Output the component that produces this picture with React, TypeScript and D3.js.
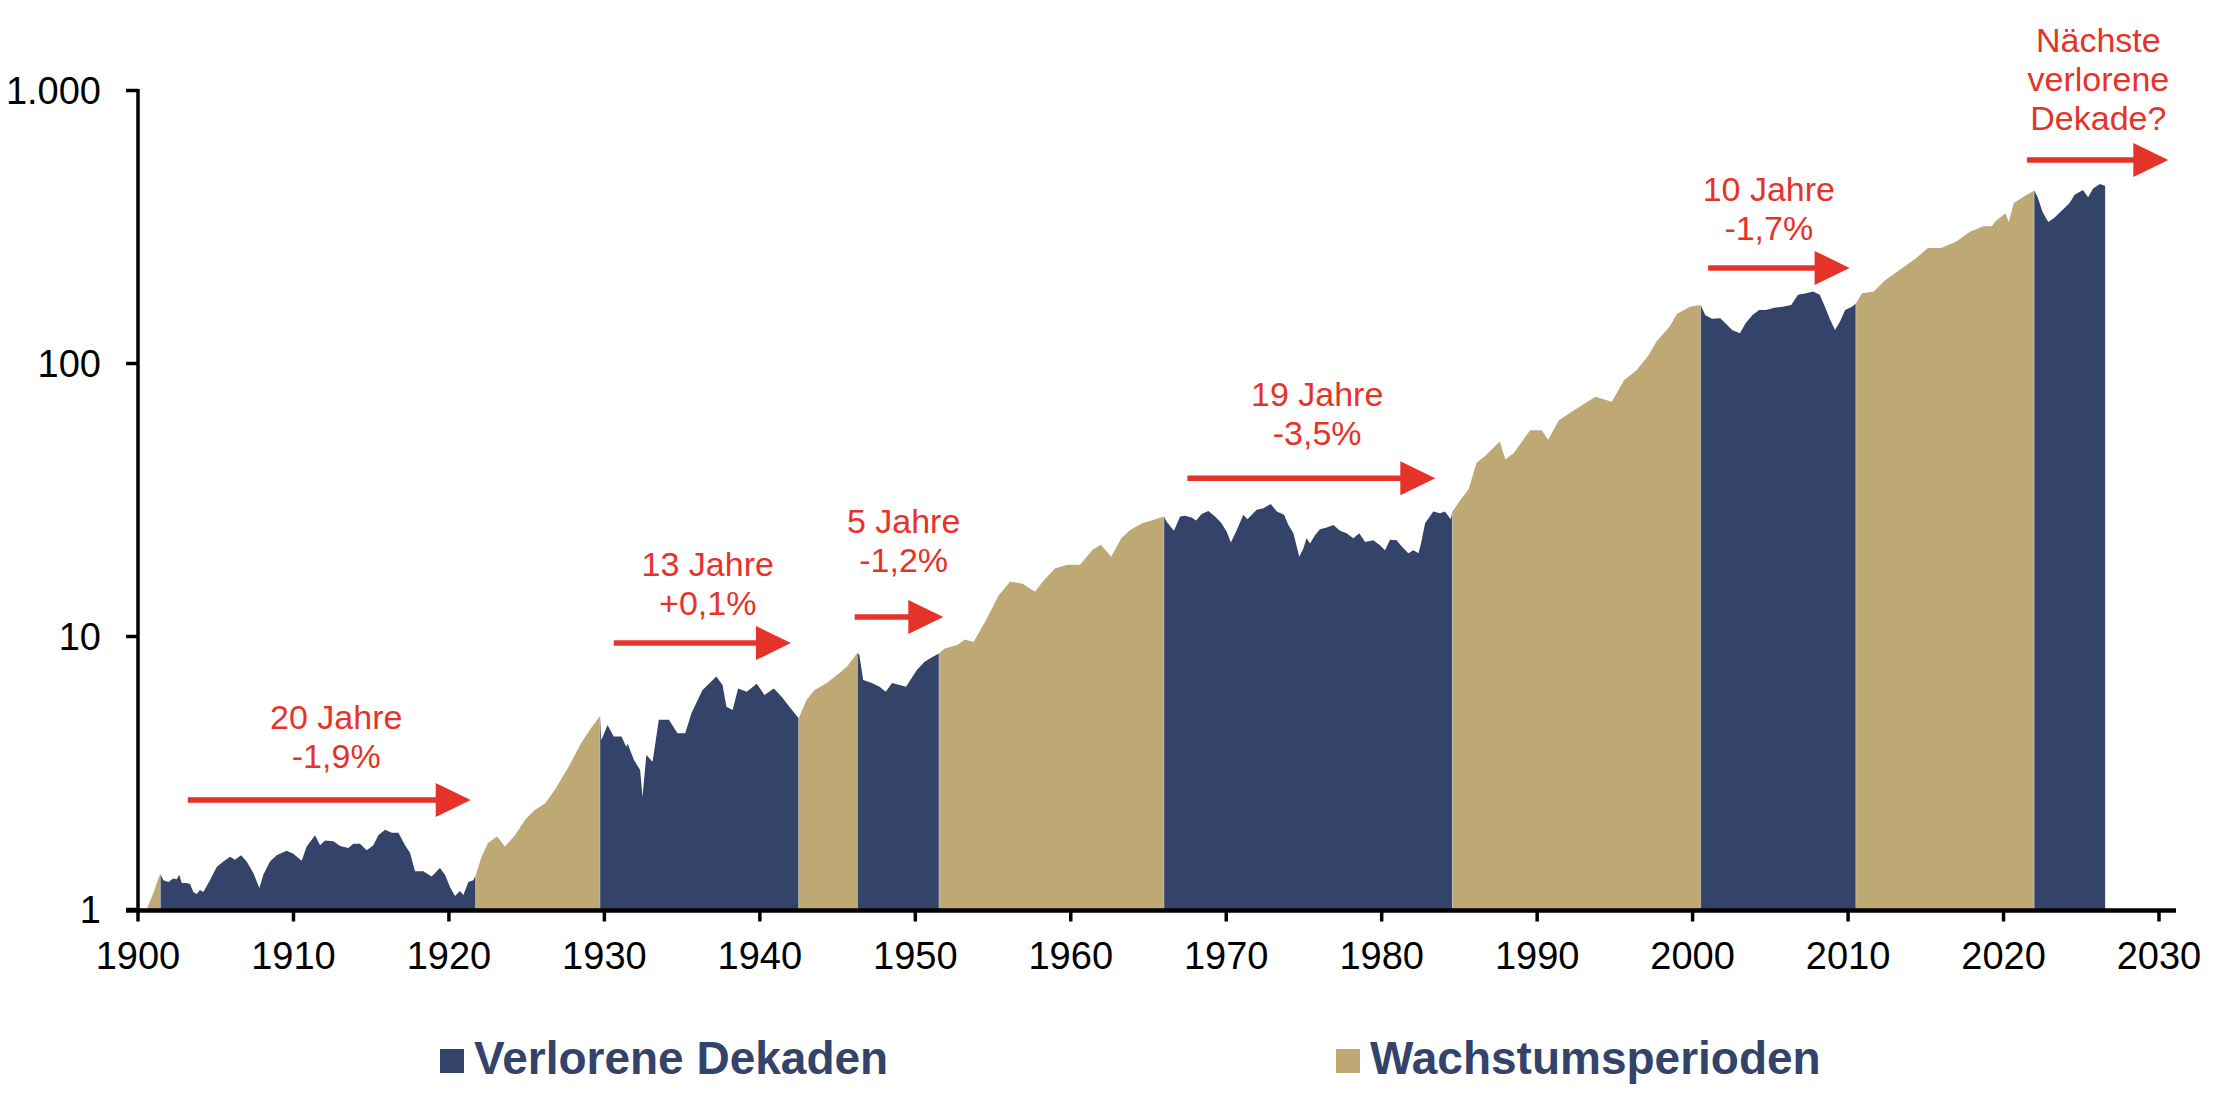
import { useEffect, useRef } from "react";
import * as d3 from "d3";

// index level (log scale) as [year, value], one list per era
const era1900: [number, number][] = [
  [1900.55, 1.0], [1900.99, 1.15], [1901.31, 1.3], [1901.44, 1.35], [1901.63, 1.28],
  [1901.95, 1.26], [1902.27, 1.3], [1902.49, 1.29], [1902.66, 1.34], [1902.81, 1.25],
  [1903.13, 1.25], [1903.35, 1.24], [1903.56, 1.16], [1903.78, 1.14], [1903.99, 1.18],
  [1904.2, 1.16], [1904.63, 1.28], [1905.06, 1.43], [1905.49, 1.5], [1905.92, 1.56],
  [1906.24, 1.52], [1906.63, 1.58], [1906.99, 1.5], [1907.42, 1.36], [1907.81, 1.2],
  [1908.06, 1.34], [1908.49, 1.5], [1908.92, 1.58], [1909.56, 1.64], [1909.99, 1.6],
  [1910.53, 1.51], [1910.85, 1.7], [1911.39, 1.87], [1911.71, 1.72], [1912.03, 1.79],
  [1912.57, 1.78], [1913.0, 1.71], [1913.53, 1.68], [1913.85, 1.74], [1914.28, 1.74],
  [1914.71, 1.65], [1915.14, 1.72], [1915.46, 1.87], [1915.89, 1.96], [1916.32, 1.91],
  [1916.75, 1.91], [1917.18, 1.72], [1917.5, 1.61], [1917.82, 1.38], [1918.35, 1.38],
  [1918.89, 1.32], [1919.42, 1.42], [1919.75, 1.34], [1920.07, 1.21], [1920.39, 1.12],
  [1920.71, 1.17], [1920.93, 1.13], [1921.25, 1.26], [1921.57, 1.28], [1921.74, 1.34],
];

const era1922: [number, number][] = [
  [1922.1, 1.56], [1922.5, 1.75], [1923.1, 1.85], [1923.6, 1.7], [1924.25, 1.87],
  [1924.9, 2.13], [1925.5, 2.31], [1926.2, 2.45], [1926.8, 2.74], [1927.7, 3.33],
  [1928.5, 4.06], [1929.2, 4.67], [1929.72, 5.11], [1929.8, 4.17], [1930.2, 4.74],
  [1930.6, 4.3], [1931.1, 4.3], [1931.4, 3.95], [1931.5, 4.05], [1931.9, 3.53],
  [1932.3, 3.24], [1932.45, 2.59], [1932.7, 3.68], [1933.1, 3.48], [1933.5, 4.95],
  [1934.15, 4.95], [1934.7, 4.42], [1935.2, 4.42], [1935.6, 5.23], [1936.3, 6.36],
  [1937.2, 7.14], [1937.6, 6.64], [1937.85, 5.53], [1938.25, 5.38], [1938.6, 6.45],
  [1939.15, 6.27], [1939.8, 6.72], [1940.3, 6.1], [1940.9, 6.45], [1941.4, 6.02],
  [1941.9, 5.53], [1942.5, 5.02], [1943.0, 5.85], [1943.5, 6.36], [1944.3, 6.75],
  [1945.1, 7.33], [1945.6, 7.75], [1946.28, 8.72], [1946.4, 8.55], [1946.65, 6.93],
  [1947.2, 6.75], [1947.7, 6.55], [1948.1, 6.27], [1948.5, 6.75], [1949.0, 6.64],
  [1949.4, 6.55], [1950.1, 7.54], [1950.6, 8.08], [1951.1, 8.42], [1951.52, 8.67],
  [1951.9, 9.03], [1952.7, 9.3], [1953.2, 9.76], [1953.75, 9.55], [1954.55, 11.5],
  [1955.35, 14.1], [1956.1, 15.9], [1956.9, 15.6], [1957.7, 14.6], [1958.2, 15.9],
  [1959.0, 17.8], [1959.8, 18.3], [1960.6, 18.3], [1961.4, 20.8], [1961.94, 21.7],
  [1962.6, 19.6], [1963.25, 22.9], [1963.8, 24.5], [1964.6, 26.0], [1965.4, 26.8],
];

const era1966: [number, number][] = [
  [1966.0, 27.5], [1966.17, 26.3], [1966.64, 24.4], [1967.03, 27.5], [1967.35, 27.7],
  [1967.78, 27.3], [1968.06, 26.6], [1968.42, 28.1], [1968.85, 28.8], [1969.28, 27.5],
  [1969.7, 26.0], [1970.03, 24.2], [1970.3, 22.1], [1970.67, 24.5], [1971.1, 27.9],
  [1971.36, 26.9], [1971.96, 29.1], [1972.39, 29.5], [1972.86, 30.6], [1973.25, 28.7],
  [1973.72, 27.9], [1974.0, 25.6], [1974.32, 23.9], [1974.7, 19.6], [1974.96, 21.0],
  [1975.17, 22.9], [1975.39, 21.9], [1975.71, 23.5], [1976.03, 24.7], [1976.46, 25.1],
  [1976.89, 25.6], [1977.32, 24.4], [1977.75, 23.9], [1978.17, 22.9], [1978.56, 23.9],
  [1978.93, 22.2], [1979.46, 22.5], [1979.89, 21.6], [1980.21, 20.7], [1980.54, 22.6],
  [1980.96, 22.5], [1981.28, 21.4], [1981.71, 20.2], [1982.04, 20.7], [1982.36, 20.2],
  [1982.53, 21.9], [1982.79, 26.0], [1983.32, 28.7], [1983.75, 28.3], [1984.07, 28.7],
  [1984.44, 26.9], [1984.55, 28.7],
];

const era1985: [number, number][] = [
  [1985.1, 31.8], [1985.6, 34.7], [1986.1, 43.3], [1986.65, 45.8], [1987.6, 51.8],
  [1987.95, 44.5], [1988.5, 47.0], [1989.55, 57], [1990.3, 57], [1990.7, 52.6],
  [1991.4, 62], [1992.4, 67.6], [1993.75, 75.5], [1994.8, 72.5], [1995.6, 87],
  [1996.4, 94.5], [1997.15, 107], [1997.7, 121], [1998.5, 136], [1999.0, 152],
  [1999.83, 161.5],
];

const era2000: [number, number][] = [
  [2000.52, 163.8], [2000.81, 150.6], [2001.24, 146], [2001.78, 146.4], [2002.22, 138.4],
  [2002.54, 132.7], [2003.04, 129], [2003.41, 140.5], [2003.85, 150.6], [2004.28, 157],
  [2004.71, 157], [2005.26, 160], [2005.8, 161.5], [2006.34, 163.8], [2006.78, 178.5],
  [2007.32, 181], [2007.75, 183.5], [2008.18, 178.5], [2008.51, 161.5], [2008.84, 145],
  [2009.16, 132.7], [2009.49, 142.8], [2009.81, 157], [2010.25, 161.5], [2010.5, 166],
  [2010.9, 181], [2011.66, 183.5], [2012.3, 200], [2013.3, 220], [2014.37, 243],
  [2015.13, 265], [2016.0, 265], [2016.97, 280], [2017.84, 304], [2018.7, 318],
  [2019.25, 318], [2019.47, 331], [2020.12, 355], [2020.34, 330], [2020.66, 387],
  [2021.31, 409], [2021.97, 430], [2022.18, 409], [2022.51, 359], [2022.88, 330],
  [2023.27, 342], [2023.7, 361], [2024.25, 387], [2024.57, 415], [2025.11, 432],
  [2025.44, 406], [2025.76, 438], [2026.2, 454], [2026.55, 447],
];

// regime boundaries; periods alternate growth / lost decade
const breaks = [
  1900.55, 1901.44, 1921.72, 1929.72, 1942.5, 1946.28, 1951.52,
  1966.0, 1984.55, 2000.52, 2010.5, 2021.97, 2026.55,
];
const regimes = ["growth", "lost", "growth", "lost", "growth", "lost", "growth", "lost", "growth", "lost", "growth", "lost"];

const yTicks = [1, 10, 100, 1000];
const yTickLabels = ["1", "10", "100", "1.000"];
const xTicks = d3.range(1900, 2031, 10);

// annotations: arrow span in years, arrow level and label level in index units
const noteLines = [
  ["20 Jahre", "-1,9%"],
  ["13 Jahre", "+0,1%"],
  ["5 Jahre", "-1,2%"],
  ["19 Jahre", "-3,5%"],
  ["10 Jahre", "-1,7%"],
  ["Nächste", "verlorene", "Dekade?"],
];
const noteFrom = [1903.2, 1930.6, 1946.1, 1967.5, 2001.0, 2021.5];
const noteTo = [1921.4, 1942.0, 1951.8, 1983.45, 2010.1, 2030.6];
const noteLevel = [2.52, 9.46, 11.8, 38.0, 224, 556];
const noteTextYear = [1912.75, 1936.65, 1949.25, 1975.85, 2004.9, 2026.1];
const noteTextLevel = [3.3, 12.0, 17.2, 50.3, 283, 717];

const legendLabels = ["Verlorene Dekaden", "Wachstumsperioden"];

const NAVY = "#34436a";
const TAN = "#bea975";
const RED = "#e63329";
const FONT = "'Liberation Sans', Arial, sans-serif";

export default function App() {
  const svgRef = useRef<SVGSVGElement>(null);
  const width = 2216;
  const height = 1100;

  useEffect(() => {
    const svg = d3.select(svgRef.current);
    svg.selectAll("*").remove();

    const x = d3.scaleLinear().domain([1900, 2030]).range([138, 2159]);
    const y = d3.scaleLog().domain([1, 1000]).range([909.5, 90.5]);

    const pts = [...era1900, ...era1922, ...era1966, ...era1985, ...era2000];
    const area = d3
      .area<[number, number]>()
      .x(d => x(d[0]))
      .y0(y(1))
      .y1(d => y(d[1]));

    // one clip per regime period, each draws the full area in its colour
    const defs = svg.append("defs");
    regimes.forEach((r, i) => {
      defs
        .append("clipPath")
        .attr("id", `reg${i}`)
        .append("rect")
        .attr("x", x(breaks[i]))
        .attr("y", 0)
        .attr("width", x(breaks[i + 1]) - x(breaks[i]))
        .attr("height", height);
      svg
        .append("path")
        .attr("d", area(pts))
        .attr("clip-path", `url(#reg${i})`)
        .attr("fill", r === "lost" ? NAVY : TAN);
    });

    // faint seams between periods
    breaks.slice(1, -1).forEach(b => {
      svg.append("line")
        .attr("x1", x(b)).attr("x2", x(b))
        .attr("y1", 80).attr("y2", y(1))
        .attr("stroke", "#fff").attr("stroke-opacity", 0.25)
        .attr("stroke-width", 1);
    });

    // y axis
    svg.append("line")
      .attr("x1", x(1900)).attr("x2", x(1900))
      .attr("y1", y(1000) - 1.5).attr("y2", y(1))
      .attr("stroke", "#000").attr("stroke-width", 3.5);
    yTicks.forEach((t, i) => {
      svg.append("line")
        .attr("x1", x(1900) - 12).attr("x2", x(1900))
        .attr("y1", y(t)).attr("y2", y(t))
        .attr("stroke", "#000").attr("stroke-width", 3.5);
      svg.append("text")
        .attr("x", x(1900) - 37).attr("y", y(t) + 13)
        .attr("text-anchor", "end")
        .attr("font-family", FONT).attr("font-size", 38)
        .attr("fill", "#000")
        .text(yTickLabels[i]);
    });

    // x axis
    svg.append("line")
      .attr("x1", x(1900) - 12).attr("x2", 2176)
      .attr("y1", y(1) + 1).attr("y2", y(1) + 1)
      .attr("stroke", "#000").attr("stroke-width", 4.5);
    xTicks.forEach(t => {
      svg.append("line")
        .attr("x1", x(t)).attr("x2", x(t))
        .attr("y1", y(1)).attr("y2", y(1) + 12)
        .attr("stroke", "#000").attr("stroke-width", 3.5);
      svg.append("text")
        .attr("x", x(t)).attr("y", 969)
        .attr("text-anchor", "middle")
        .attr("font-family", FONT).attr("font-size", 38)
        .attr("fill", "#000")
        .text(t);
    });

    // red annotations
    noteLines.forEach((lines, i) => {
      const ay = y(noteLevel[i]);
      const x0 = x(noteFrom[i]);
      const x1 = x(noteTo[i]);
      svg.append("line")
        .attr("x1", x0).attr("x2", x1 - 30)
        .attr("y1", ay).attr("y2", ay)
        .attr("stroke", RED).attr("stroke-width", 5.5);
      svg.append("path")
        .attr("d", `M${x1 - 35},${ay - 17}L${x1},${ay}L${x1 - 35},${ay + 17}Z`)
        .attr("fill", RED);
      const ty = y(noteTextLevel[i]);
      const tx = x(noteTextYear[i]);
      lines.forEach((ln, j) => {
        svg.append("text")
          .attr("x", tx)
          .attr("y", ty - (lines.length - 1 - j) * 39)
          .attr("text-anchor", "middle")
          .attr("font-family", FONT).attr("font-size", 34)
          .attr("fill", RED)
          .text(ln);
      });
    });

    // legend
    const legendX = [440, 1336];
    legendLabels.forEach((lab, i) => {
      svg.append("rect")
        .attr("x", legendX[i]).attr("y", 1049)
        .attr("width", 24).attr("height", 24)
        .attr("fill", i === 0 ? NAVY : TAN);
      svg.append("text")
        .attr("x", legendX[i] + 34).attr("y", 1074)
        .attr("font-family", FONT).attr("font-size", 46)
        .attr("font-weight", "bold")
        .attr("fill", NAVY)
        .text(lab);
    });
  }, []);

  return (
    <svg
      ref={svgRef}
      width={width}
      height={height}
      style={{ position: "absolute", left: 0, top: 0, background: "#fff" }}
    />
  );
}
